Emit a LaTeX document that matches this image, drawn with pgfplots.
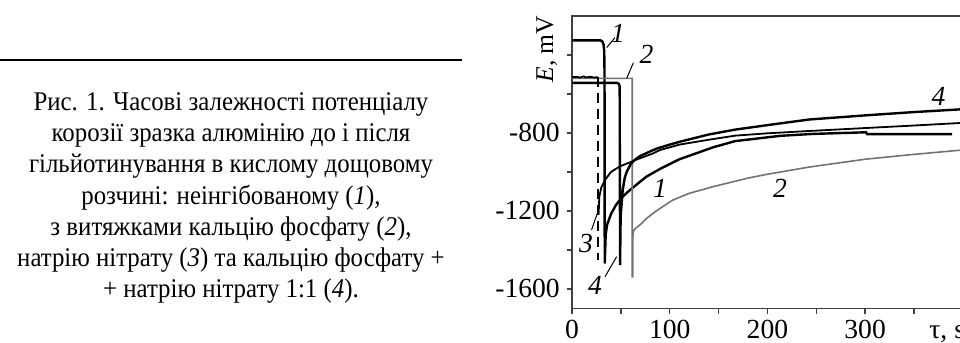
\documentclass[border=0pt]{standalone}
\usepackage{fontspec}
\setmainfont{Liberation Serif}
\newfontfamily\capfont[FakeStretch=0.92]{Liberation Serif}
\usepackage{pgfplots}
\pgfplotsset{compat=1.18}
\begin{document}
\begin{tikzpicture}
\begin{axis}[
  at={(0,0)}, anchor=south west,
  scale only axis,
  width=196pt, height=146.15pt,
  xmin=0, xmax=401.2, ymin=-1700, ymax=-200,
  axis line style={black!75, line width=0.8pt},
  tick align=outside,
  xtick pos=left, ytick pos=left,
  major tick length=2.6pt, minor tick length=2.6pt,
  every tick/.style={black!75, line width=0.7pt},
  xtick={0,100,200,300}, xticklabels={\textrm{0},\textrm{100},\textrm{200},\textrm{300}},
  minor xtick={50,150,250,350},
  extra x ticks={384}, extra x tick labels={\textrm{\vphantom{0}τ, s}},
  extra x tick style={major tick style={draw=none}},
  ytick={-1600,-1200,-800}, yticklabels={\textrm{-1600},\textrm{-1200},\textrm{-800}},
  minor ytick={-1400,-1000,-600,-400},
  tick label style={font=\fontsize{13.8}{15}\selectfont},
  clip=false,
]
% curve 1
\addplot[black, line width=1.2pt] coordinates {
(0,-325) (29,-325) (31,-330) (32.3,-345) (33,-380) (33.3,-500) (33.5,-1470)
(34.5,-1320) (36,-1270) (40,-1215) (45,-1170) (52,-1126) (60,-1090) (76,-1025)
(90,-985) (110,-935) (145,-873) (167,-842) (213,-815) (247,-805) (299,-797)
(301,-797) (302,-806) (389,-806)};
% curve 2
\addplot[black!55, line width=0.8pt] coordinates {
(0,-520) (61.7,-520) (61.7,-1538) (62.2,-1538) (62.4,-1310) (63.5,-1300) (65,-1290) (70,-1270)
(76,-1240) (85,-1205) (93,-1178) (103,-1145) (120,-1110) (145,-1075) (167,-1048)
(180,-1032) (200,-1012) (243,-975) (300,-935) (350,-910) (401.2,-887)};
% curve 3
\addplot[black, line width=0.9pt] coordinates {
(0,-514) (5,-512) (8,-516) (12,-510) (14,-515) (20,-512) (22,-516) (26.6,-514)};
\addplot[black, line width=1.2pt, dash pattern=on 5pt off 3pt] coordinates {
(26.6,-514) (26.6,-1452)};
\addplot[black, line width=0.9pt] coordinates {
(27.2,-1220) (28,-1126) (30,-1080) (34,-1040) (40,-1000) (49,-972) (66,-937)
(83,-905) (90,-888) (110,-860) (140,-835) (167,-814) (200,-802) (243,-790)
(300,-775) (350,-762) (401.2,-748)};
% curve 4
\addplot[black, line width=1.2pt] coordinates {
(0,-543) (46,-543) (48,-548) (48.8,-560) (49.2,-1478) (49.8,-1230) (51,-1150)
(52,-1090) (54,-1030) (56,-1000) (60,-960) (65,-935) (70,-918) (80,-895)
(87,-880) (100,-860) (110.5,-845) (140,-808) (167,-783) (200,-760) (243,-731)
(300,-710) (350,-693) (401.2,-678)};
% labels
\begin{scope}[every node/.style={font=\fontsize{13.8}{15}\selectfont\itshape, inner sep=0pt}]
\node at (axis cs:47,-290) {1};
\draw[black, line width=0.5pt] (axis cs:35.5,-362) -- (axis cs:44,-311);
\node at (axis cs:76.4,-397) {2};
\draw[black, line width=0.5pt] (axis cs:56,-520) -- (axis cs:62.8,-440);
\node at (axis cs:14.3,-1366) {3};
\draw[black, line width=0.5pt] (axis cs:20,-1298) -- (axis cs:26,-1212);
\node at (axis cs:23.5,-1581) {4};
\draw[black, line width=0.5pt] (axis cs:33.8,-1538) -- (axis cs:45.7,-1435);
\node at (axis cs:90,-1083) {1};
\node at (axis cs:213,-1083) {2};
\node at (axis cs:375,-612) {4};
\end{scope}
\node[rotate=90, anchor=west, inner sep=0pt] at ([xshift=-12.65pt]axis cs:0,-544) {\fontsize{12.8}{15}\selectfont\textit{E}, mV};
\end{axis}
% caption
\draw[line width=0.8pt] (-286pt,124.15pt) -- (-55pt,124.15pt);
\node[anchor=north, align=center, inner sep=0pt, font=\capfont\fontsize{13.5}{15.6}\selectfont] at (-170.5pt,108pt) {Рис. 1. Часові залежності потенціалу\\
корозії зразка алюмінію до і після\\
гільйотинування в кислому дощовому\\
розчині: неінгібованому (\textit{1}),\\
з витяжками кальцію фосфату (\textit{2}),\\
натрію нітрату (\textit{3}) та кальцію фосфату +\\
+ натрію нітрату 1:1 (\textit{4}).};
\pgfresetboundingbox
\path[use as bounding box] (-286pt,-17.35pt) rectangle (194pt,154.15pt);
\end{tikzpicture}
\end{document}
